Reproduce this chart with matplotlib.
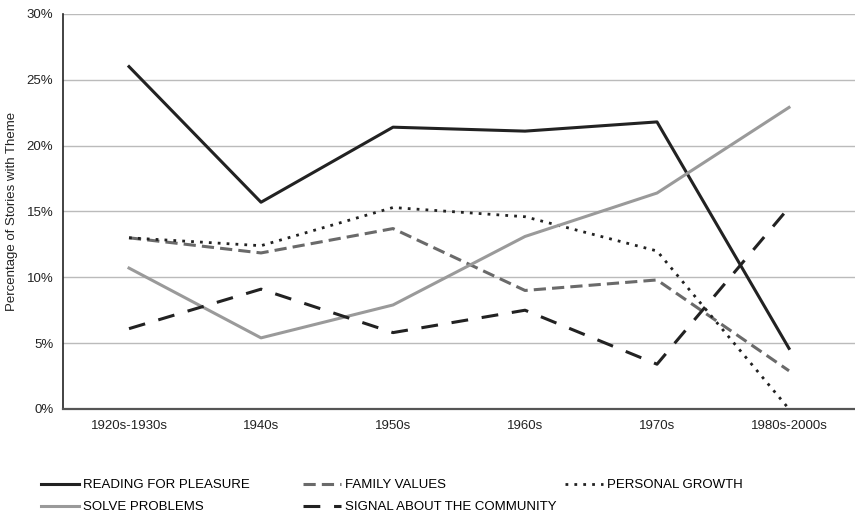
import matplotlib
matplotlib.use("Agg")
import matplotlib.pyplot as plt
from matplotlib.ticker import FuncFormatter

plt.rcParams['font.family'] = ['Liberation Sans', 'DejaVu Sans']

categories = ["1920s-1930s", "1940s", "1950s", "1960s", "1970s", "1980s-2000s"]
reading = [26.0, 15.7, 21.4, 21.1, 21.8, 4.6]
family = [13.0, 11.85, 13.7, 9.0, 9.8, 2.9]
personal = [13.0, 12.4, 15.3, 14.6, 12.0, 0.0]
solve = [10.7, 5.4, 7.9, 13.1, 16.4, 22.9]
signal = [6.1, 9.1, 5.8, 7.5, 3.4, 15.3]

W, H = 855, 516
fig = plt.figure(figsize=(W / 100, H / 100), dpi=100)
ax = fig.add_axes([0.0737, 0.2074, 0.9263, 0.7656])
x = list(range(len(categories)))

l1, = ax.plot(x, reading, color='#222222', lw=2.2, label='READING FOR PLEASURE')
l2, = ax.plot(x, family, color='#6a6a6a', lw=2.2, dashes=(4, 2), label='FAMILY VALUES')
l3, = ax.plot(x, personal, color='#222222', lw=2.0, dashes=(1, 2.2), label='PERSONAL GROWTH')
l4, = ax.plot(x, solve, color='#9a9a9a', lw=2.2, label='SOLVE PROBLEMS')
l5, = ax.plot(x, signal, color='#222222', lw=2.2, dashes=(5.5, 4.5), label='SIGNAL ABOUT THE COMMUNITY')

ax.set_xlim(-0.5, 5.5)
ax.set_ylim(0, 30)
ax.set_yticks([0, 5, 10, 15, 20, 25, 30])
ax.yaxis.set_major_formatter(FuncFormatter(lambda v, p: f"{int(v)}%"))
ax.set_xticks(x)
ax.set_xticklabels(categories)
ax.grid(axis='y', color='#bbbbbb', lw=1.0)
ax.set_axisbelow(True)
for s in ['top', 'right']:
    ax.spines[s].set_visible(False)
ax.spines['left'].set_color('#222222')
ax.spines['left'].set_linewidth(1.2)
ax.spines['bottom'].set_color('#555555')
ax.spines['bottom'].set_linewidth(1.6)
ax.tick_params(axis='both', length=0, labelsize=9.5, colors='#222222', pad=8)
ax.tick_params(axis='y', pad=7)
ax.set_ylabel('Percentage of Stories with Theme', fontsize=9.5, color='#222222', labelpad=6)

groups = [([l1, l4], 41), ([l2, l5], 303), ([l3], 565)]
for hs, px in groups:
    fig.legend(hs, [h.get_label() for h in hs], loc='upper left',
               bbox_to_anchor=(px / W, (H - 479) / H), frameon=False, fontsize=9.5,
               handlelength=2.9, handletextpad=0.3, labelspacing=0.75,
               borderpad=0, borderaxespad=0)

fig.savefig('out.png', dpi=100)
